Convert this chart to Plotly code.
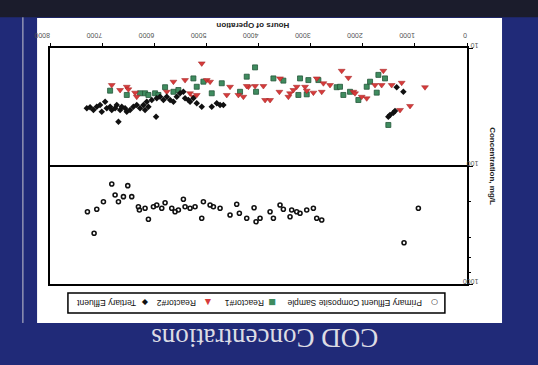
import plotly.graph_objects as go

# Hours of operation and COD (mg/L) per sample stream
tert_hours = [7294, 7231, 7167, 7103, 7039, 7007, 6943, 6911, 6847, 6815, 6751, 6719, 6655, 6623,
              6560, 6527, 6464, 6400, 6336, 6272, 6208, 6176, 6144, 6112, 6687, 5965, 6048, 5952,
              5888, 5824, 5760, 5696, 5632, 5568, 5505, 5441, 5409, 5345, 5313, 5249, 5185, 5089,
              4897, 4801, 4737, 4674, 1349, 1221, 1509, 1477, 1413, 1381]
tert_cod = [32.4, 31.8, 33.5, 31.4, 30.4, 34.7, 28.5, 32.4, 31.4, 33.5, 32.4, 30.4, 33.5, 31.4,
            32.4, 34.7, 33.5, 31.4, 30.4, 32.4, 30.4, 33.5, 28.5, 31.4, 42.1, 38.2, 27.6, 26.7,
            25.9, 27.6, 25.9, 27.6, 28.5, 25.9, 24.2, 23.5, 26.7, 27.6, 28.5, 26.7, 29.4, 31.4,
            31.4, 29.4, 30.4, 30.4, 21.5, 23.5, 38.2, 37.0, 35.3, 34.2]

r1_hours = [6847, 6527, 6272, 6176, 6112, 5984, 5920, 5792, 5632, 5537, 5249, 5185, 5057, 4897,
            4705, 4354, 4226, 4066, 4047, 3714, 3523, 3203, 3043, 3235, 3075, 2851, 2500, 2436,
            2372, 2244, 2084, 1924, 1860, 1732, 1700, 1573, 1509]
r1_cod = [23.0, 25.0, 24.2, 24.2, 25.0, 24.2, 25.0, 21.5, 23.5, 22.7, 18.1, 21.3, 19.3, 24.2,
          19.9, 23.5, 17.5, 14.6, 23.5, 18.1, 18.9, 18.1, 18.7, 25.0, 24.7, 18.7, 21.5, 21.3,
          25.0, 23.5, 27.6, 21.3, 19.3, 23.9, 16.9, 18.1, 44.9]

r2_hours = [6815, 6655, 6527, 6496, 6368, 6336, 5760, 5632, 5409, 5313, 5249, 5185, 5089, 4993,
            4929, 4609, 4546, 4386, 4290, 4194, 4226, 4066, 3906, 3874, 3778, 3587, 3599, 3395,
            3427, 3331, 3267, 3107, 3075, 2947, 2883, 2755, 2787, 2628, 2404, 2276, 2180, 2148,
            2020, 1924, 1765, 1637, 1605, 1445, 1253, 1285, 1093, 806]
r2_cod = [20.6, 22.7, 21.3, 22.4, 23.9, 25.9, 23.5, 19.3, 18.7, 24.2, 25.9, 25.0, 13.5, 18.7,
          19.3, 25.0, 21.3, 25.0, 25.9, 21.3, 21.0, 21.0, 21.0, 27.6, 27.6, 18.1, 23.5, 24.2,
          25.9, 22.7, 21.3, 21.3, 23.0, 23.9, 18.1, 19.9, 23.5, 20.6, 15.6, 17.9, 23.5, 24.2,
          25.9, 26.7, 20.6, 20.6, 15.6, 20.6, 19.7, 33.5, 31.0, 21.5]

pe_hours = [7282, 7103, 7154, 6975, 6815, 6751, 6687, 6591, 6508, 6432, 6304, 6285, 6176, 6112,
            6016, 5952, 5856, 5792, 5664, 5601, 5537, 5441, 5409, 5313, 5217, 5089, 5057, 4929,
            4865, 4737, 4546, 4418, 4367, 4226, 4085, 4047, 3970, 3778, 3714, 3587, 3523, 3395,
            3363, 3267, 3203, 3075, 2947, 2883, 2787, 1208, 933]
pe_cod = [243.9, 232.8, 371.7, 200.6, 142.1, 176.1, 200.6, 181.8, 146.8, 181.8, 221.2, 236.0,
          228.3, 283.0, 221.2, 214.0, 228.3, 204.6, 228.3, 243.9, 236.0, 191.6, 221.2, 228.3,
          221.2, 277.5, 200.6, 214.0, 221.2, 228.3, 260.0, 211.2, 251.8, 277.5, 225.6, 296.5,
          277.5, 243.9, 277.5, 214.0, 232.8, 268.9, 236.0, 243.9, 251.8, 236.0, 228.3, 277.5,
          287.0, 446.7, 228.3]

x_ticks = [0, 1000, 2000, 3000, 4000, 5000, 6000, 7000, 8000]
y_ticks = [10, 100, 1000]

RED = "#d63b3b"
GREEN = "#3f8c5f"
NAVY = "#202a78"

fig = go.Figure()
fig.add_trace(go.Scatter(x=pe_hours, y=pe_cod, mode="markers", name="Primary Effluent Composite Sample",
                         marker=dict(symbol="circle-open", size=4, color="#111", line=dict(width=1.6))))
fig.add_trace(go.Scatter(x=r1_hours, y=r1_cod, mode="markers", name="Reactor#1",
                         marker=dict(symbol="square", size=5, color=GREEN,
                                     line=dict(width=0.8, color="#24573a"))))
fig.add_trace(go.Scatter(x=r2_hours, y=r2_cod, mode="markers", name="Reactor#2",
                         marker=dict(symbol="triangle-down", size=6, color=RED,
                                     line=dict(width=0.5, color="#a02020"))))
fig.add_trace(go.Scatter(x=tert_hours, y=tert_cod, mode="markers", name="Tertiary Effluent",
                         marker=dict(symbol="diamond", size=5, color="#111")))

shapes = [
    # slide background panels
    dict(type="rect", xref="paper", yref="paper", x0=-0.2, x1=1.3, y0=1.13, y1=1.3,
         fillcolor="#1b1c2c", line=dict(width=0), layer="below"),
    dict(type="rect", xref="paper", yref="paper", x0=-0.031, x1=1.084, y0=-0.165, y1=1.127,
         fillcolor="white", line=dict(width=0), layer="below"),
    dict(type="line", xref="paper", yref="paper", x0=-0.065, x1=-0.065, y0=-0.165, y1=1.13,
         line=dict(color="#c8c8d0", width=1), layer="below"),
    # legend box
    dict(type="rect", xref="paper", yref="paper", x0=0.043, x1=0.947, y0=-0.123, y1=-0.038,
         fillcolor="white", line=dict(color="black", width=1.5)),
]


def px_to_paper(px):
    return (px - 50) / 417


# legend entries: (symbol centre px, symbol, symbol colour, label centre px, label)
legend_items = [
    (145, "◆", "#111", 106, "Tertiary Effluent"),
    (208, "▲", RED, 177, "Reactor#2"),
    (272, "■", GREEN, 245, "Reactor#1"),
    (435, "○", "#111", 355, "Primary Effluent Composite Sample"),
]

annotations = []
for sx, sym, col, tx, label in legend_items:
    annotations.append(dict(x=px_to_paper(sx), y=-0.081, xref="paper", yref="paper",
                            xanchor="center", yanchor="middle", text=sym, showarrow=False,
                            textangle=180, font=dict(family="DejaVu Sans", size=8, color=col)))
    annotations.append(dict(x=px_to_paper(tx), y=-0.081, xref="paper", yref="paper",
                            xanchor="center", yanchor="middle", text=label, showarrow=False,
                            textangle=180,
                            font=dict(family="Liberation Sans", size=8.5, color="#111")))

annotations += [
    dict(x=0.486, y=1.093, xref="paper", yref="paper", text="<b>Hours of Operation</b>",
         xanchor="center", yanchor="middle",
         showarrow=False, textangle=180, font=dict(family="Liberation Sans", size=8, color="#222")),
    dict(x=1.062, y=0.5, xref="paper", yref="paper", text="<b>Concentration, mg/L</b>",
         xanchor="center", yanchor="middle",
         showarrow=False, textangle=90, font=dict(family="Liberation Sans", size=8, color="#222")),
    dict(x=0.516, y=-0.229, xref="paper", yref="paper", text="COD Concentrations",
         xanchor="center", yanchor="middle",
         showarrow=False, textangle=180,
         font=dict(family="Liberation Serif", size=27, color="#dcdce4")),
]

fig.update_layout(
    width=538, height=365,
    margin=dict(l=50, r=71, t=48, b=81),
    paper_bgcolor=NAVY, plot_bgcolor="white",
    showlegend=False,
    shapes=shapes, annotations=annotations,
    xaxis=dict(range=[8000, 0], side="top", tickvals=x_ticks, ticktext=[str(v) for v in x_ticks],
               tickangle=180, ticks="outside", ticklen=3, tickcolor="black",
               showgrid=False, zeroline=False, showline=True, linecolor="black", linewidth=2,
               mirror=True, tickfont=dict(family="Liberation Sans", size=7, color="#555")),
    yaxis=dict(type="log", range=[3, 1], side="right", tickvals=y_ticks,
               ticktext=[str(v) for v in y_ticks], tickangle=180,
               ticks="outside", ticklen=4, tickcolor="black", ticklabelstandoff=4,
               minor=dict(ticks="outside", ticklen=2, tickcolor="black", showgrid=False),
               showgrid=True, gridcolor="black", gridwidth=2,
               showline=True, linecolor="black", linewidth=2, mirror=True,
               tickfont=dict(family="Liberation Sans", size=7, color="#555")),
)

fig.write_html("out.html")
